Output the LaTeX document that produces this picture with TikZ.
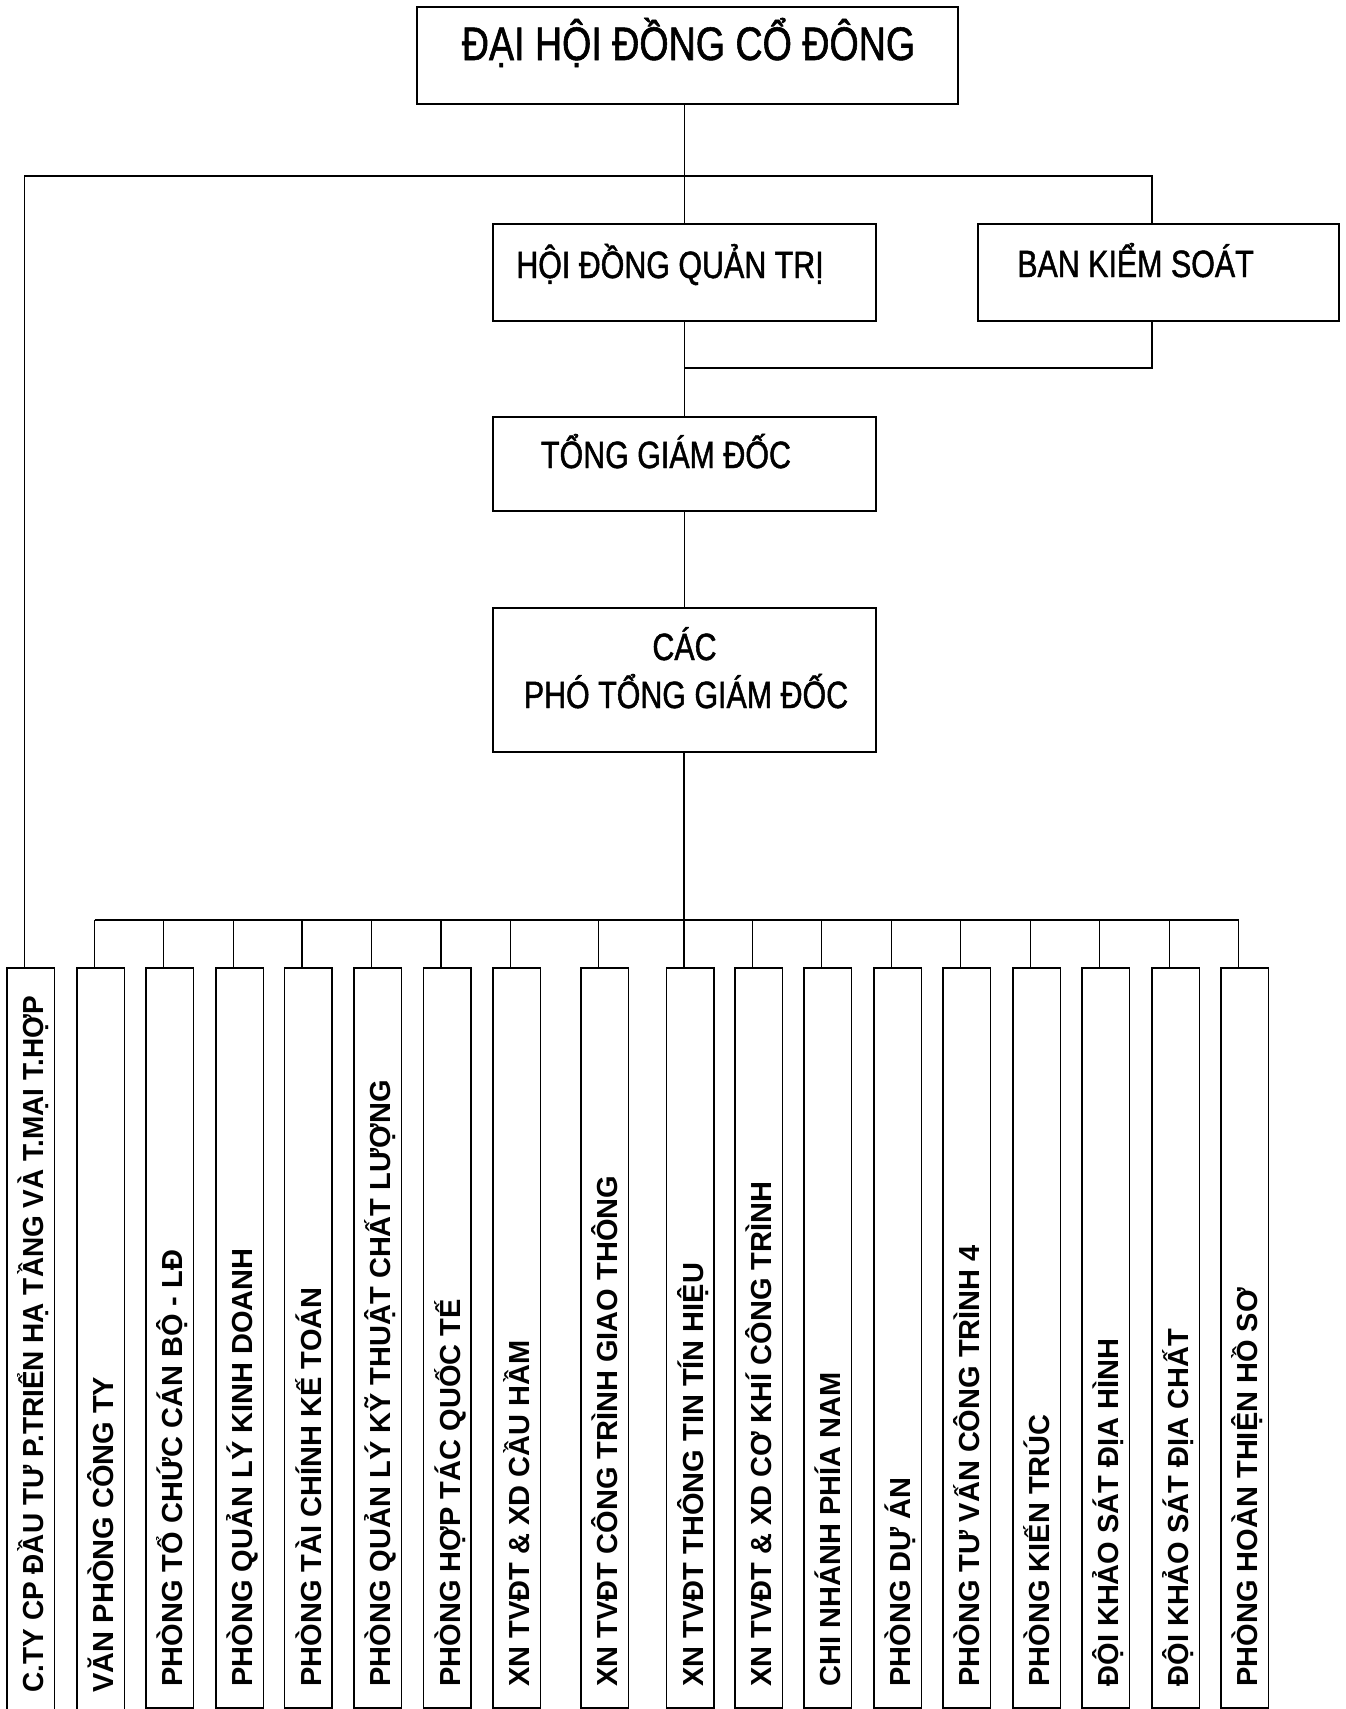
\documentclass[tikz,border=0pt]{standalone}
\usepackage{fontspec}
\setmainfont{Liberation Sans}
\newfontfamily\narrowsans[FakeStretch=0.8, FakeBold=1.2]{Liberation Sans}
\newfontfamily\condsans[FakeStretch=0.965]{Liberation Sans}
\usetikzlibrary{positioning}
\tikzset{
  orgbox/.style={rectangle, draw, line width=1.3pt, inner sep=0pt},
  headbox/.style={orgbox, minimum width=383pt},
  unitbox/.style={orgbox, minimum width=47.5pt, minimum height=740pt},
  longunit/.style={orgbox, minimum width=47.5pt, minimum height=762pt},
  headtext/.style={inner sep=0pt, anchor=base, font=\narrowsans\fontsize{38}{49}\selectfont},
  unittext/.style={inner sep=0pt, rotate=90, anchor=base west, font=\bfseries\fontsize{29}{29}\selectfont},
  link/.style={line width=1.3pt},
}

\begin{document}
\begin{tikzpicture}[x=1pt, y=1pt]
  \path[use as bounding box, fill=white] (0,0) rectangle (1346,-1709);

  % Upper levels
  \node[orgbox, minimum width=541pt, minimum height=97pt] (dhdcd) at (687.5,-55.5) {};
  \node[headtext, font=\narrowsans\fontsize{47}{50}\selectfont] (dhdcd-t) at (688.5,-60) {ĐẠI HỘI ĐỒNG CỔ ĐÔNG};

  \node[headbox, minimum height=97pt] (hdqt) at (684.5,-272.5) {};
  \node[headtext] (hdqt-t) at (670,-278) {HỘI ĐỒNG QUẢN TRỊ};

  \node[orgbox, minimum width=361pt, minimum height=97pt] (bks) at (1158.5,-272.5) {};
  \node[headtext] (bks-t) at (1135.5,-277) {BAN KIỂM SOÁT};

  \node[headbox, minimum height=94pt] (tgd) at (684.5,-464) {};
  \node[headtext] (tgd-t) at (666,-468) {TỔNG GIÁM ĐỐC};

  \node[headbox, minimum height=144pt] (pho) at (684.5,-680) {};
  \node[headtext] (pho-t1) at (684.5,-660) {CÁC};
  \node[headtext] (pho-t2) at (686,-708) {PHÓ TỔNG GIÁM ĐỐC};

  % Units
  \node[longunit] (u1) at (30.75,-1349) {};
  \node[longunit] (u2) at (100.75,-1349) {};
  \node[unitbox] (u3) at (169.75,-1338) {};
  \node[unitbox] (u4) at (239.75,-1338) {};
  \node[unitbox] (u5) at (308.25,-1338) {};
  \node[unitbox] (u6) at (377.75,-1338) {};
  \node[unitbox] (u7) at (447.25,-1338) {};
  \node[unitbox] (u8) at (516.75,-1338) {};
  \node[unitbox] (u9) at (604.75,-1338) {};
  \node[unitbox] (u10) at (690.25,-1338) {};
  \node[unitbox] (u11) at (758.75,-1338) {};
  \node[unitbox] (u12) at (827.75,-1338) {};
  \node[unitbox] (u13) at (897.75,-1338) {};
  \node[unitbox] (u14) at (966.75,-1338) {};
  \node[unitbox] (u15) at (1036.75,-1338) {};
  \node[unitbox] (u16) at (1105.75,-1338) {};
  \node[unitbox] (u17) at (1175.75,-1338) {};
  \node[unitbox] (u18) at (1244.75,-1338) {};

  \node[unittext, font=\condsans\bfseries\fontsize{29}{29}\selectfont] (u1-t) at ([xshift=12.75pt, yshift=38pt]u1.south) {C.TY CP ĐẦU TƯ P.TRIỂN HẠ TẦNG VÀ T.MẠI T.HỢP};
  \node[unittext] (u2-t) at ([xshift=12.75pt, yshift=38pt]u2.south) {VĂN PHÒNG CÔNG TY};
  \node[unittext] (u3-t) at ([xshift=12.75pt, yshift=22pt]u3.south) {PHÒNG TỔ CHỨC CÁN BỘ - LĐ};
  \node[unittext] (u4-t) at ([xshift=12.75pt, yshift=22pt]u4.south) {PHÒNG QUẢN LÝ KINH DOANH};
  \node[unittext] (u5-t) at ([xshift=12.75pt, yshift=22pt]u5.south) {PHÒNG TÀI CHÍNH KẾ TOÁN};
  \node[unittext] (u6-t) at ([xshift=12.75pt, yshift=22pt]u6.south) {PHÒNG QUẢN LÝ KỸ THUẬT CHẤT LƯỢNG};
  \node[unittext] (u7-t) at ([xshift=12.75pt, yshift=22pt]u7.south) {PHÒNG HỢP TÁC QUỐC TẾ};
  \node[unittext] (u8-t) at ([xshift=12.75pt, yshift=22pt]u8.south) {XN TVĐT \& XD CẦU HẦM};
  \node[unittext] (u9-t) at ([xshift=12.75pt, yshift=22pt]u9.south) {XN TVĐT CÔNG TRÌNH GIAO THÔNG};
  \node[unittext] (u10-t) at ([xshift=12.75pt, yshift=22pt]u10.south) {XN TVĐT THÔNG TIN TÍN HIỆU};
  \node[unittext] (u11-t) at ([xshift=12.75pt, yshift=22pt]u11.south) {XN TVĐT \& XD CƠ KHÍ CÔNG TRÌNH};
  \node[unittext] (u12-t) at ([xshift=12.75pt, yshift=22pt]u12.south) {CHI NHÁNH PHÍA NAM};
  \node[unittext] (u13-t) at ([xshift=12.75pt, yshift=22pt]u13.south) {PHÒNG DỰ ÁN};
  \node[unittext] (u14-t) at ([xshift=12.75pt, yshift=22pt]u14.south) {PHÒNG TƯ VẤN CÔNG TRÌNH 4};
  \node[unittext] (u15-t) at ([xshift=12.75pt, yshift=22pt]u15.south) {PHÒNG KIẾN TRÚC};
  \node[unittext] (u16-t) at ([xshift=12.75pt, yshift=22pt]u16.south) {ĐỘI KHẢO SÁT ĐỊA HÌNH};
  \node[unittext] (u17-t) at ([xshift=12.75pt, yshift=22pt]u17.south) {ĐỘI KHẢO SÁT ĐỊA CHẤT};
  \node[unittext] (u18-t) at ([xshift=12.75pt, yshift=22pt]u18.south) {PHÒNG HOÀN THIỆN HỒ SƠ};

  % Connectors
  \coordinate (topbus) at (0,-176);
  \coordinate (midbus) at (0,-368);
  \coordinate (lowbus) at (0,-920);
  \coordinate (bkstop) at ([xshift=-6.5pt]bks.north);
  \coordinate (bksbot) at ([xshift=-6.5pt]bks.south);
  \foreach \u in {1,...,18}
    \coordinate (t\u) at ([xshift=-6.25pt]u\u.north);

  \draw[link] (t1) -- (t1 |- topbus) -- (bkstop |- topbus) -- (bkstop);
  \draw[link] (dhdcd.south -| hdqt.north) -- (hdqt.north);
  \draw[link] (hdqt.south) -- (tgd.north);
  \draw[link] (bksbot) -- (bksbot |- midbus) -- (hdqt.south |- midbus);
  \draw[link] (tgd.south) -- (pho.north);
  \draw[link] (pho.south -| t10) -- (t10);

  \draw[link] (t2 |- lowbus) -- (t18 |- lowbus);
  \foreach \u in {2,...,18}
    \draw[link] (t\u |- lowbus) -- (t\u);
\end{tikzpicture}
\end{document}
